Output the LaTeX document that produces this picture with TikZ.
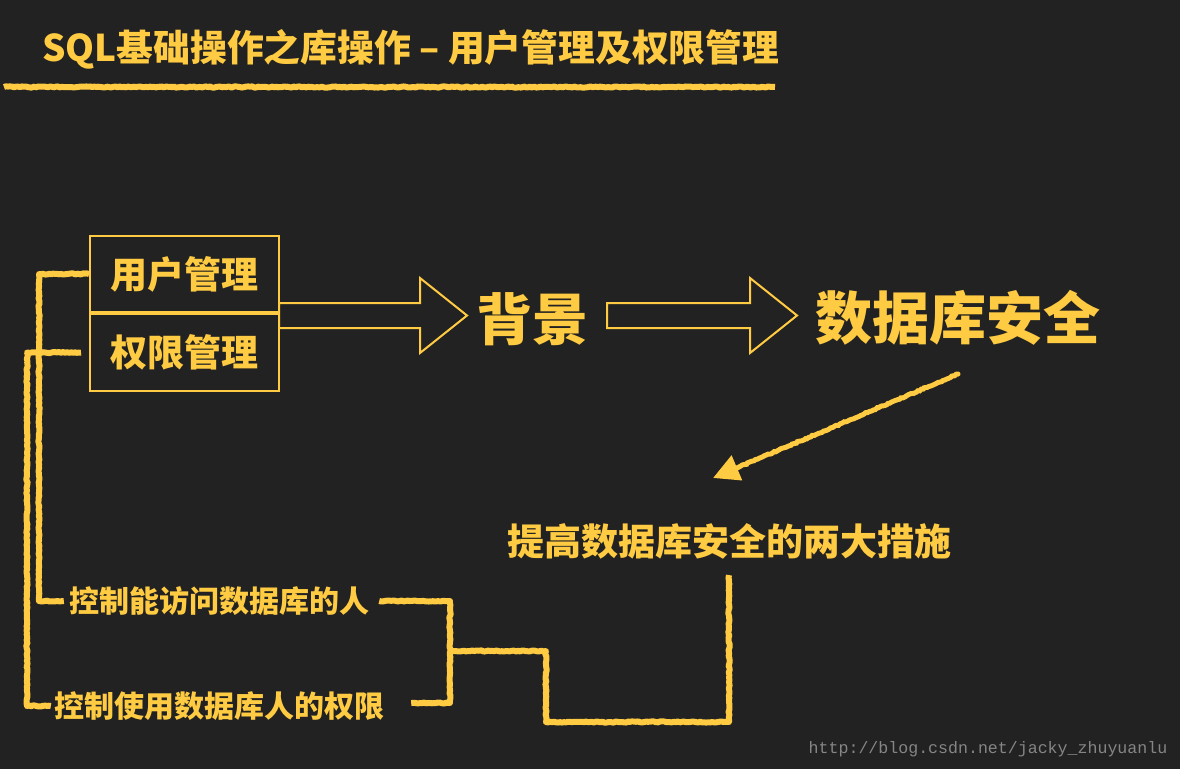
\documentclass[tikz,border=0pt]{standalone}
\usepackage{fontspec}
\newfontfamily\cjk{Noto Sans CJK SC}
\newfontfamily\webmono{Liberation Mono}
\usepackage{tikz}
\usetikzlibrary{arrows.meta,positioning,decorations.pathmorphing}

\definecolor{chalk}{RGB}{255,203,66}
\definecolor{board}{RGB}{34,34,34}

\begin{document}
\begin{tikzpicture}[x=1pt,y=-1pt,>=Stealth,
 every node/.style={text=chalk,inner sep=2pt},
 label/.style={font=\cjk\bfseries\fontsize{#1}{#1}\selectfont},
 box/.style={draw=chalk,line width=2pt,minimum width=189pt,minimum height=76.5pt,inner sep=0pt},
 outline/.style={draw=chalk,line width=2pt,line join=miter},
 chalkline/.style={draw=chalk,line width=6pt,line join=round,
   decorate,decoration={random steps,segment length=2pt,amplitude=0.6pt}}]
\fill[board] (0,0) rectangle (1180,769);
\useasboundingbox (0,0) rectangle (1180,769);
% title
\node[label=36.8,anchor=west] (title) at (40,49) {SQL基础操作之库操作 – 用户管理及权限管理};
\coordinate (ul1) at (4,87);
\coordinate (ul2) at (775,87);
\draw[chalkline] (ul1) -- (ul2);
% boxes and headings
\node[box,label=37] (user) at (184.5,274) {用户管理};
\node[box,label=37,below=0pt of user] (perm) {权限管理};
\node[label=56] (bg) at (532.5,319) {背景};
\node[label=57] (sec) at (957.5,318) {数据库安全};
\node[label=37] (measures) at (729,541) {提高数据库安全的两大措施};
\node[label=30] (access) at (219,601) {控制能访问数据库的人};
\node[label=30] (privilege) at (219,706) {控制使用数据库人的权限};
\node[font=\webmono\fontsize{16.6}{18}\selectfont,text=black!48] (url) at (988,749) {http://blog.csdn.net/jacky\_zhuyuanlu};
% hollow arrows
\foreach \s/\e in {279/467,607/797}{
 \draw[outline] (\s,303) -- (\e-47,303) -- (\e-47,278) -- (\e,315.5)
  -- (\e-47,353) -- (\e-47,328) -- (\s,328) -- cycle;}
% chalk arrow
\coordinate (c1) at (958,374);
\coordinate (c2) at (713,478);
\draw[chalk,line width=5pt,line cap=round,-{Triangle[length=26pt,width=26pt]},
 decorate,decoration={random steps,segment length=2pt,amplitude=0.6pt,post length=20pt}] (c1) -- (c2);
% brackets
\draw[chalkline] (user.west) -- ++(-50,0) |- ([xshift=-3pt]access.west);
\draw[chalkline] ([xshift=-8pt]perm.west) -- ++(-54,0) |- ([xshift=-1pt]privilege.west);
\draw[chalkline] ([xshift=8pt]access.east) -| (450,703) -- ([xshift=25pt]privilege.east |- 0,703);
\coordinate (j) at (450,651);
\draw[chalkline] (j) -| (546,722) -| ([yshift=-14pt]measures.south);
\end{tikzpicture}
\end{document}
